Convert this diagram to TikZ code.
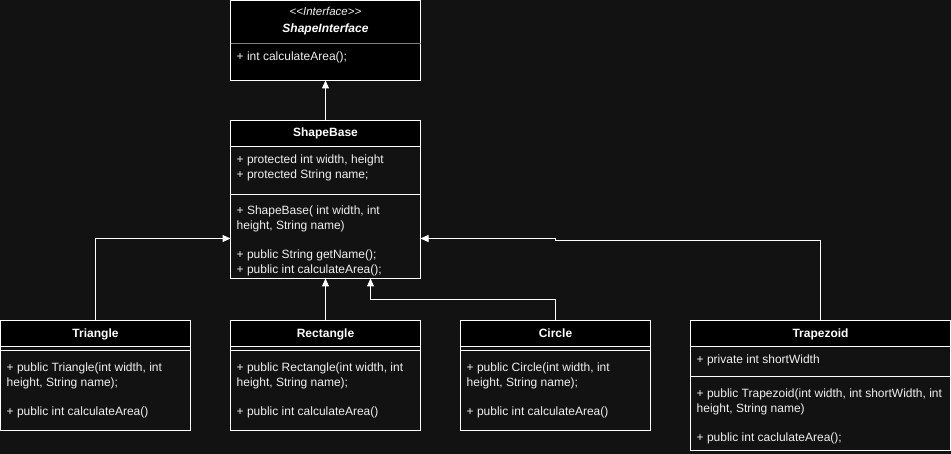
\documentclass[tikz,border=0pt]{standalone}
\usepackage{fontspec}
\setmainfont{Liberation Sans}
\usetikzlibrary{arrows.meta}
\definecolor{canvas}{HTML}{121212}
\definecolor{ink}{HTML}{F0F0F0}
\definecolor{rulegray}{HTML}{808080}
\tikzset{
  classbox/.style={draw=white, line width=1pt, inner sep=0pt, outer sep=0pt,
    rectangle, anchor=north west},
  divider/.style={draw=white, line width=1pt},
  member/.style={anchor=base west, inner sep=0pt, text=ink,
    font=\fontsize{12}{14.6}\selectfont},
  classname/.style={anchor=base, inner sep=0pt, text=white,
    font=\fontsize{12}{14.6}\selectfont\bfseries},
  inherit/.style={draw=white, line width=1pt,
    -{Triangle[length=8pt,width=7pt]}},
}
\begin{document}
\begin{tikzpicture}[x=1pt,y=-1pt]
\fill[canvas] (0,0) rectangle (951,454);
\useasboundingbox (0,0) rectangle (951,454);

% ---- interface ----
\node[classbox, fill=black, minimum width=190pt, minimum height=80pt] (iface) at (230.5,0.5) {};
\draw[draw=rulegray, line width=1pt] (230.5,43.5) -- (420.5,43.5);
\node[anchor=base, inner sep=0pt, text=ink, font=\fontsize{11.5}{14}\selectfont\itshape]
  (ifacestereo) at (325.5,15.5) {<\kern0pt<Interface>\kern0pt>};
\node[classname, font=\fontsize{12}{14.6}\selectfont\bfseries\itshape] (ifacename) at (325.5,32.5) {ShapeInterface};
\node[member] (ifacem1) at (236.5,60.5) {+ int calculateArea();};

% ---- ShapeBase ----
\fill[black] (230.5,120.5) rectangle (420.5,146.5);
\node[classbox, minimum width=190pt, minimum height=158pt] (base) at (230.5,120.5) {};
\draw[divider] (230.5,146.5) -- (420.5,146.5);
\draw[divider] (230.5,194.5) -- (420.5,194.5);
\node[classname] (basename) at (325.5,136.5) {ShapeBase};
\node[member] (basea1) at (236.5,163.5) {+ protected int width, height};
\node[member] (basea2) at (236.5,178.1) {+ protected String name;};
\node[member] (basem1) at (236.5,215.0) {+ ShapeBase( int width, int};
\node[member] (basem1b) at (236.5,229.6) {height, String name)};
\node[member] (basem2) at (236.5,258.8) {+ public String getName();};
\node[member] (basem3) at (236.5,273.4) {+ public int calculateArea();};

% ---- Triangle ----
\fill[black] (0.5,320.5) rectangle (190.5,346.5);
\node[classbox, minimum width=190pt, minimum height=110pt] (tri) at (0.5,320.5) {};
\draw[divider] (0.5,346.5) -- (190.5,346.5);
\draw[divider] (0.5,350.5) -- (190.5,350.5);
\node[classname] (triname) at (95.5,338) {Triangle};
\node[member] (trim1) at (6.5,372) {+ public Triangle(int width, int};
\node[member] (trim1b) at (6.5,386.6) {height, String name);};
\node[member] (trim2) at (6.5,415.6) {+ public int calculateArea()};

% ---- Rectangle ----
\fill[black] (230.5,320.5) rectangle (420.5,346.5);
\node[classbox, minimum width=190pt, minimum height=110pt] (rect) at (230.5,320.5) {};
\draw[divider] (230.5,346.5) -- (420.5,346.5);
\draw[divider] (230.5,350.5) -- (420.5,350.5);
\node[classname] (rectname) at (325.5,338) {Rectangle};
\node[member] (rectm1) at (236.5,372) {+ public Rectangle(int width, int};
\node[member] (rectm1b) at (236.5,386.6) {height, String name);};
\node[member] (rectm2) at (236.5,415.6) {+ public int calculateArea()};

% ---- Circle ----
\fill[black] (460.5,320.5) rectangle (650.5,346.5);
\node[classbox, minimum width=190pt, minimum height=110pt] (circ) at (460.5,320.5) {};
\draw[divider] (460.5,346.5) -- (650.5,346.5);
\draw[divider] (460.5,350.5) -- (650.5,350.5);
\node[classname] (circname) at (555.5,338) {Circle};
\node[member] (circm1) at (466.5,372) {+ public Circle(int width, int};
\node[member] (circm1b) at (466.5,386.6) {height, String name);};
\node[member] (circm2) at (466.5,415.6) {+ public int calculateArea()};

% ---- Trapezoid ----
\fill[black] (690.5,320.5) rectangle (950.5,346.5);
\node[classbox, minimum width=260pt, minimum height=130pt] (trap) at (690.5,320.5) {};
\draw[divider] (690.5,346.5) -- (950.5,346.5);
\draw[divider] (690.5,376.5) -- (950.5,376.5);
\node[classname] (trapname) at (820.5,338) {Trapezoid};
\node[member] (trapa1) at (696.5,363.6) {+ private int shortWidth};
\node[member] (trapm1) at (696.5,398) {+ public Trapezoid(int width, int shortWidth, int};
\node[member] (trapm1b) at (696.5,412.6) {height, String name)};
\node[member] (trapm2) at (696.5,441.4) {+ public int caclulateArea();};

% ---- generalisation arrows ----
\coordinate (circbend) at (370.5,299.5);
\draw[inherit] (base.north) -- (iface.south);
\draw[inherit] (tri.north) |- (base.west |- 0,238.5);
\draw[inherit] (rect.north) -- (base.south);
\draw[inherit] (circ.north) |- (circbend) -- (circbend |- base.south);
\draw[inherit] (trap.north) |- (555.5,240.5) -- (555.5,238.5) -- (base.east |- 0,238.5);
\end{tikzpicture}
\end{document}
